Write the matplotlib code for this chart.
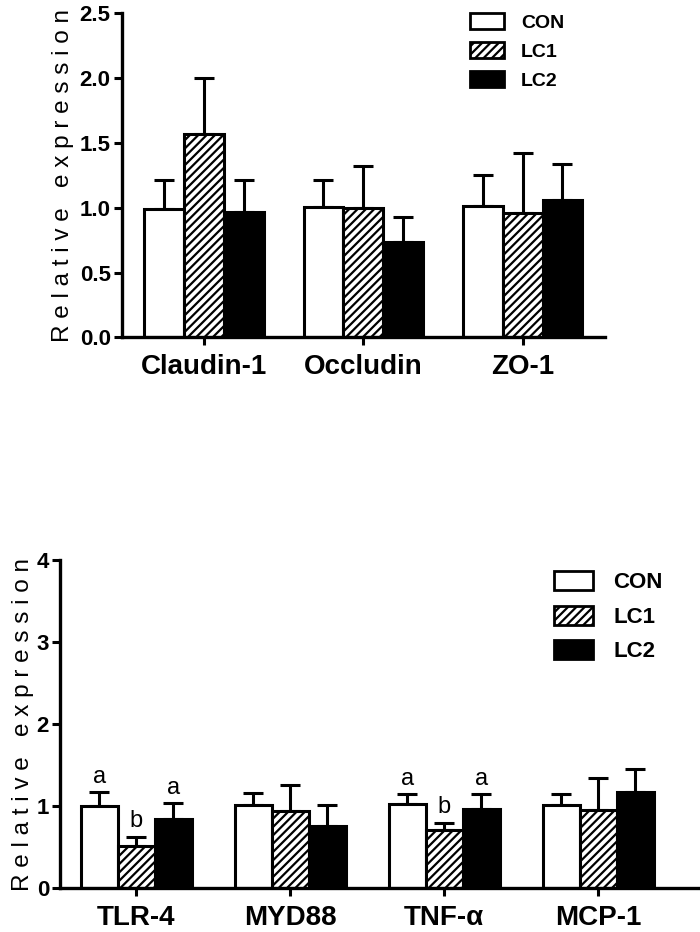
import numpy as np
import matplotlib
matplotlib.use('Agg')
import matplotlib.pyplot as plt
from matplotlib.patches import Patch

plt.rcParams['font.family'] = ['Liberation Sans', 'DejaVu Sans']
plt.rcParams['hatch.linewidth'] = 1.6

groups = ['CON', 'LC1', 'LC2']

# top panel: tight junction genes
genes_top = ['Claudin-1', 'Occludin', 'ZO-1']
mean_top = {'CON': [0.99, 1.005, 1.01], 'LC1': [1.57, 0.995, 0.96], 'LC2': [0.965, 0.735, 1.06]}
sd_top = {'CON': [0.22, 0.205, 0.24], 'LC1': [0.43, 0.325, 0.46], 'LC2': [0.245, 0.19, 0.28]}

# bottom panel: inflammation genes
genes_bot = ['TLR-4', 'MYD88', 'TNF-α', 'MCP-1']
mean_bot = {'CON': [1.0, 1.02, 1.03, 1.02], 'LC1': [0.52, 0.94, 0.71, 0.95], 'LC2': [0.84, 0.76, 0.97, 1.17]}
sd_bot = {'CON': [0.17, 0.14, 0.12, 0.13], 'LC1': [0.11, 0.32, 0.09, 0.39], 'LC2': [0.20, 0.25, 0.18, 0.28]}
letters_bot = {'CON': ['a', '', 'a', ''], 'LC1': ['b', '', 'b', ''], 'LC2': ['a', '', 'a', '']}

styles = {'CON': dict(color='white', hatch=None),
          'LC1': dict(color='white', hatch='////'),
          'LC2': dict(color='black', hatch=None)}


def spaced(s):
    return ' '.join(s)


def draw_panel(ax, genes, means, sds, width, ytop, yticks, ticklabels, letters=None):
    x = np.arange(len(genes))
    for k, g in enumerate(groups):
        pos = x + (k - 1) * width
        ax.bar(pos, means[g], width, color=styles[g]['color'], hatch=styles[g]['hatch'],
               edgecolor='black', linewidth=2.2, zorder=2)
        ax.errorbar(pos, means[g], yerr=[np.zeros(len(genes)), sds[g]], fmt='none',
                    ecolor='black', elinewidth=2.2, capsize=7, capthick=2.2, zorder=1)
        if letters is not None:
            for p, m, s, t in zip(pos, means[g], sds[g], letters[g]):
                if t:
                    ax.text(p, m + s + 0.05, t, ha='center', va='bottom', fontsize=17)
    ax.set_ylim(0, ytop)
    ax.set_yticks(yticks)
    ax.set_yticklabels(ticklabels, fontsize=16, fontweight='bold')
    ax.set_xticks(x)
    ax.set_xticklabels(genes, fontsize=20, fontweight='bold')
    for side in ['top', 'right']:
        ax.spines[side].set_visible(False)
    for side in ['left', 'bottom']:
        ax.spines[side].set_linewidth(2.4)
    ax.tick_params(axis='both', width=2.2, length=6)
    ax.tick_params(axis='x', pad=6)
    ax.tick_params(axis='y', pad=2)


fig = plt.figure(figsize=(7, 9.32), dpi=100)

ax1 = fig.add_axes([0.174, 0.638, 0.69, 0.348])
draw_panel(ax1, genes_top, mean_top, sd_top, 0.25, 2.5,
           [0, 0.5, 1.0, 1.5, 2.0, 2.5], ['0.0', '0.5', '1.0', '1.5', '2.0', '2.5'])
ax1.set_xlim(-0.516, 2.516)
ax1.set_ylabel(spaced('Relative expression'), fontsize=17.5, labelpad=4)
h1 = [Patch(facecolor=styles[g]['color'], hatch=styles[g]['hatch'], edgecolor='black', linewidth=2)
      for g in groups]
ax1.legend(h1, groups, loc='upper left', bbox_to_anchor=(0.70, 1.03), frameon=False,
           prop={'size': 14, 'weight': 'bold'}, handlelength=1.75, handleheight=0.85,
           labelspacing=0.55, handletextpad=0.9, borderpad=0)

ax2 = fig.add_axes([0.086, 0.047, 0.914, 0.352])
draw_panel(ax2, genes_bot, mean_bot, sd_bot, 0.24, 4,
           [0, 1, 2, 3, 4], ['0', '1', '2', '3', '4'], letters_bot)
ax2.set_xlim(-0.494, 3.66)
ax2.set_ylabel(spaced('Relative expression'), fontsize=17.5, labelpad=2)
h2 = [Patch(facecolor=styles[g]['color'], hatch=styles[g]['hatch'], edgecolor='black', linewidth=2)
      for g in groups]
ax2.legend(h2, groups, loc='upper left', bbox_to_anchor=(0.755, 1.0), frameon=False,
           prop={'size': 16, 'weight': 'bold'}, handlelength=1.75, handleheight=0.95,
           labelspacing=0.55, handletextpad=0.9, borderpad=0)

fig.savefig('out.png', dpi=100)
